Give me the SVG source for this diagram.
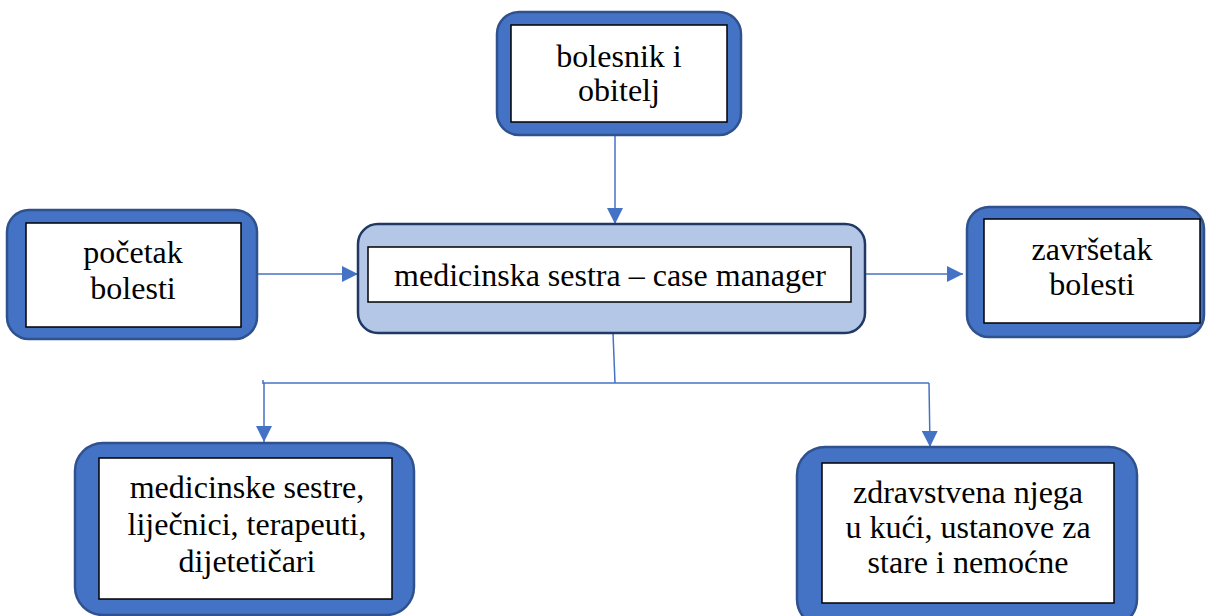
<svg xmlns="http://www.w3.org/2000/svg" width="1206" height="616" viewBox="0 0 1206 616">
<style>
.outer{fill:#4472c4;stroke:#2f528f;stroke-width:2.5}
.center{fill:#b4c7e7;stroke:#203864;stroke-width:2.5}
.inner{fill:#ffffff;stroke:#000000;stroke-width:1.5}
.t{font-family:"Liberation Serif","Times New Roman",serif;font-size:32px;fill:#000;text-anchor:middle}
.c{fill:none;stroke:#4472c4;stroke-width:1.5}
</style>
<defs>
<marker id="ahb" viewBox="0 0 16 16" refX="16" refY="8" markerWidth="16" markerHeight="16" markerUnits="userSpaceOnUse" orient="auto">
<path d="M0,0 L16,8 L0,16 Z" fill="#4472c4"/>
</marker>
</defs>
<g id="connectors">
<line class="c" x1="615" y1="135" x2="615" y2="224" marker-end="url(#ahb)"/>
<line class="c" x1="257" y1="274" x2="358" y2="274" marker-end="url(#ahb)"/>
<line class="c" x1="865" y1="274" x2="963" y2="274" marker-end="url(#ahb)"/>
<polyline class="c" points="613,333 615,383"/>
<line class="c" x1="263" y1="383" x2="929" y2="383"/>
<line class="c" x1="263" y1="380" x2="263" y2="384"/>
<line class="c" x1="264" y1="383" x2="264" y2="442" marker-end="url(#ahb)"/>
<line class="c" x1="929" y1="383" x2="930" y2="447" marker-end="url(#ahb)"/>
</g>
<g id="node-bolesnik">
<rect class="outer" x="497" y="12" width="244" height="123" rx="22"/>
<rect class="inner" x="511" y="25" width="216" height="97"/>
<text class="t" x="619" y="67">bolesnik i</text>
<text class="t" x="619" y="101">obitelj</text>
</g>
<g id="node-pocetak">
<rect class="outer" x="7" y="210" width="250" height="129" rx="22"/>
<rect class="inner" x="26" y="223" width="215" height="104"/>
<text class="t" x="133" y="263">početak</text>
<text class="t" x="133" y="299">bolesti</text>
</g>
<g id="node-center">
<rect class="center" x="358" y="224" width="507" height="109" rx="20"/>
<rect class="inner" x="368" y="247" width="483" height="55"/>
<text class="t" x="610" y="286">medicinska sestra – case manager</text>
</g>
<g id="node-zavrsetak">
<rect class="outer" x="967" y="207" width="237" height="130" rx="22"/>
<rect class="inner" x="984" y="219" width="216" height="104"/>
<text class="t" x="1092" y="260">završetak</text>
<text class="t" x="1092" y="295">bolesti</text>
</g>
<g id="node-medicinske">
<rect class="outer" x="75" y="443" width="339" height="172" rx="28"/>
<rect class="inner" x="99" y="458" width="293" height="141"/>
<text class="t" x="247" y="498">medicinske sestre,</text>
<text class="t" x="247" y="535">liječnici, terapeuti,</text>
<text class="t" x="247" y="572">dijetetičari</text>
</g>
<g id="node-zdravstvena">
<rect class="outer" x="797" y="447" width="340" height="180" rx="28"/>
<rect class="inner" x="822" y="463" width="292" height="140"/>
<text class="t" x="968" y="503">zdravstvena njega</text>
<text class="t" x="968" y="538">u kući, ustanove za</text>
<text class="t" x="968" y="573">stare i nemoćne</text>
</g>
</svg>
